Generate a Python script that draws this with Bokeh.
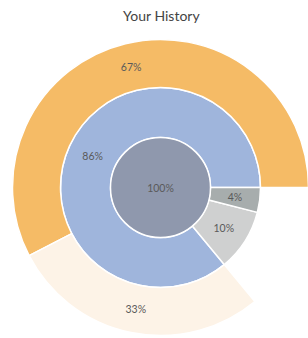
import math
from bokeh.plotting import figure
from bokeh.models import Range1d
from bokeh.core.properties import value
from bokeh.embed import file_html
from bokeh.resources import INLINE

# ---- data ----
title_text = "Your History"
root_label = "100%"
root_value = [100]
mid_labels = ["86%", "10%", "4%"]
mid_values = [86, 10, 4]
mid_colors = ["#9fb5dc", "#cfd0d0", "#a7adad"]
outer_labels = ["67%", "33%"]
outer_values = [67, 33]          # shares of the 86% segment
outer_colors = ["#f5bb66", "#fdf3e7"]
root_color = "#8f98ad"

W, H = 308, 338
cx, cy = 160, H - 187
r0, r1, r2 = 50, 100, 148

p = figure(width=W, height=H, output_backend="svg", toolbar_location=None,
           x_range=Range1d(0, W), y_range=Range1d(0, H), min_border=0)
p.axis.visible = False
p.grid.visible = False
p.outline_line_color = None
p.background_fill_color = "white"

# middle ring
tot = sum(mid_values)
starts, ends = [], []
a = 0.0
for v in mid_values:
    starts.append(a)
    a += v / tot * 2 * math.pi
    ends.append(a)
p.annular_wedge(x=cx, y=cy, inner_radius=r0, outer_radius=r1,
                start_angle=starts, end_angle=ends, direction="anticlock",
                fill_color=mid_colors, line_color="white", line_width=1.5)

# root
p.circle(x=[cx], y=[cy], radius=r0,
         fill_color=root_color, line_color="white", line_width=1.5)

# outer ring: children of first middle segment
parent_span = ends[0] - starts[0]
ototal = sum(outer_values)
ostarts, oends = [], []
a = starts[0]
for v in outer_values:
    ostarts.append(a)
    a += v / ototal * parent_span
    oends.append(a)
p.annular_wedge(x=cx, y=cy, inner_radius=r1, outer_radius=r2,
                start_angle=ostarts, end_angle=oends, direction="anticlock",
                fill_color=outer_colors, line_color="white", line_width=1.5)

# labels
lx, ly, lt = [cx], [cy], [root_label]
for s, e, t in zip(starts, ends, mid_labels):
    m = (s + e) / 2
    rr = (r0 + r1) / 2
    lx.append(cx + rr * math.cos(m)); ly.append(cy + rr * math.sin(m)); lt.append(t)
for s, e, t in zip(ostarts, oends, outer_labels):
    m = (s + e) / 2
    rr = (r1 + r2) / 2
    lx.append(cx + rr * math.cos(m)); ly.append(cy + rr * math.sin(m)); lt.append(t)
p.text(x=lx, y=ly, text=lt, text_align="center", text_baseline="middle",
       text_font=value("Lato"), text_font_size="10.5px", text_color="#5a5a5a")

p.text(x=[161], y=[H - 15], text=[title_text], text_align="center",
       text_baseline="middle", text_font=value("Lato"), text_font_size="14px",
       text_color="#444444")

open("out.html", "w").write(file_html(p, INLINE))
